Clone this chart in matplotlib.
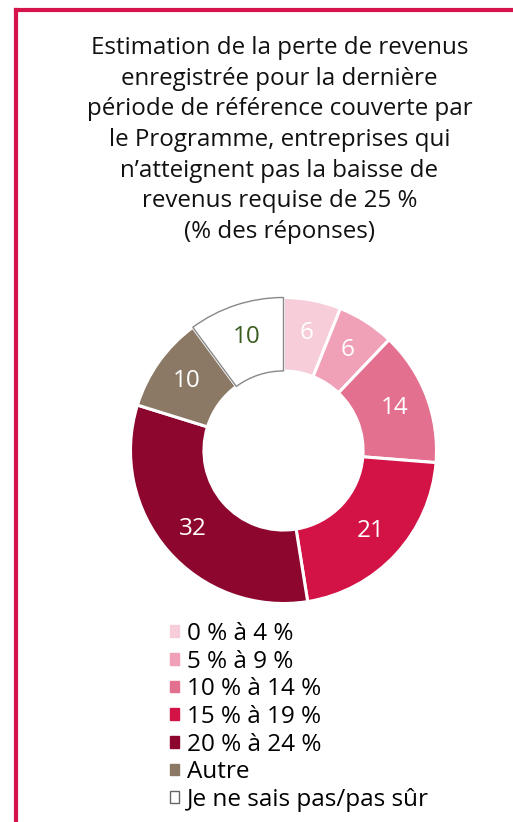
import matplotlib.pyplot as plt
from matplotlib.patches import Patch
from matplotlib.lines import Line2D

plt.rcParams['font.family'] = ['Open Sans', 'DejaVu Sans']

categories = ['0 % à 4 %', '5 % à 9 %', '10 % à 14 %', '15 % à 19 %',
              '20 % à 24 %', 'Autre', 'Je ne sais pas/pas sûr']
values = [6, 6, 14, 21, 32, 10, 10]
colors = ['#F6CDD9', '#F0A1B7', '#E4708F', '#D31245', '#8C062D', '#8B7966', '#FFFFFF']
label_colors = ['white', 'white', 'white', 'white', 'white', 'white', '#3B5E1F']

title = ("Estimation de la perte de revenus\nenregistrée pour la dernière\n"
         "période de référence couverte par\nle Programme, entreprises qui\n"
         "n’atteignent pas la baisse de\nrevenus requise de 25 %\n(% des réponses)")

W, H = 513, 822
fig = plt.figure(figsize=(W / 100, H / 100), dpi=100)

# red frame on the left and top
red = '#D4144A'
fig.add_artist(Line2D([16 / W, 16 / W], [0, 1 - 10 / H], color=red, lw=3, transform=fig.transFigure))
fig.add_artist(Line2D([16 / W, 1], [1 - 10 / H, 1 - 10 / H], color=red, lw=3, transform=fig.transFigure))

fig.text(279.5 / W, 1 - 36 / H, title, ha='center', va='top', fontsize=17.4,
         linespacing=1.37, color='#111111')

cx, cy, R = 283.5, 450.5, 153
half = 165
ax = fig.add_axes([(cx - half) / W, 1 - (cy + half) / H, 2 * half / W, 2 * half / H])

wedges, texts = ax.pie(values, colors=colors, startangle=90, counterclock=False,
                       radius=1, labels=[str(v) for v in values], labeldistance=0.78,
                       wedgeprops=dict(width=0.48, edgecolor='white', linewidth=2.2),
                       textprops=dict(fontsize=17.5))
for t, c in zip(texts, label_colors):
    t.set_color(c)
    t.set_ha('center')
    t.set_va('center')
    t.set_zorder(10)
wedges[-1].set_edgecolor('#888888')
wedges[-1].set_linewidth(1.0)
wedges[-1].set_zorder(5)

lim = half / R
ax.set_xlim(-lim, lim)
ax.set_ylim(-lim, lim)
ax.axis('off')

handles = [Patch(facecolor=c, edgecolor=('#666666' if c == '#FFFFFF' else c), linewidth=1)
           for c in colors]
fig.legend(handles, categories, loc='upper left', bbox_to_anchor=(170 / W, 1 - 622 / H),
           frameon=False, fontsize=17.5, handlelength=0.36, handleheight=0.36,
           handletextpad=0.33, labelspacing=0.15, borderaxespad=0, borderpad=0)

fig.savefig('out.png', dpi=100)
